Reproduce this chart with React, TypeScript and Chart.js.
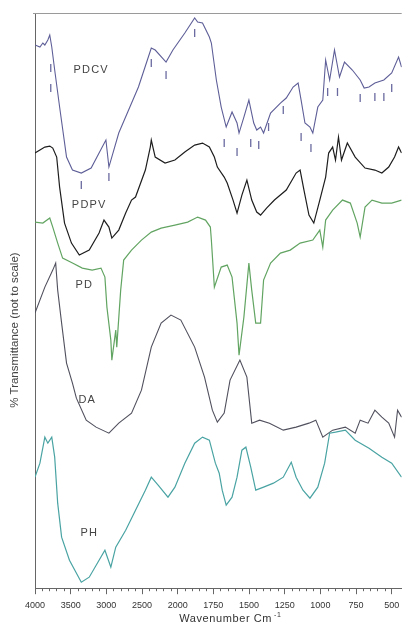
import React, { useEffect, useRef } from 'react';
import { Chart, registerables, LinearScale } from 'chart.js';

// ---------- data (wavenumber cm-1 / transmittance, arbitrary offset units) ----------
const pdcvWave = [4000,3931,3890,3862,3820,3793,3765,3724,3655,3558,3475,3351,3213,3102,3006,2964,2826,2688,2550,2439,2370,2315,2163,2067,1950,1881,1860,1826,1778,1764,1729,1695,1660,1619,1584,1570,1536,1501,1467,1446,1419,1398,1349,1280,1239,1191,1156,1135,1108,1073,1053,1018,983,963,935,901,866,831,776,721,693,659,618,555,500,452,431];
const pdcvT = [108.6,108.2,109,108.6,109.6,110.6,108.2,103.6,96.2,86.2,83.6,83,84,87,89.6,84.2,91,95.6,100.2,105,108,107.6,105.2,107.6,111,114,113.2,113,110.2,109,101.6,96.2,92.2,95.2,93,91,94.2,97.6,93,91.6,92.2,91,95,97,98,100.2,101,97.6,93,92.2,91,96.2,97.6,105.6,101.6,107.6,102.2,105.2,103.6,101.6,100,100.2,101,101.6,103,106.2,104.2];

const pdpvWave = [4000,3931,3862,3793,3751,3696,3655,3586,3489,3379,3240,3102,3033,2964,2923,2826,2729,2647,2591,2453,2384,2370,2315,2177,2039,1950,1881,1826,1778,1743,1722,1674,1653,1612,1584,1550,1515,1481,1446,1419,1377,1322,1239,1170,1142,1115,1080,1046,1004,963,942,914,894,873,852,811,756,687,618,569,521,480,452,431];
const pdpvT = [87,87.6,88.2,88.4,88,86.2,80.2,73,69,66.6,67.6,71,73.6,72.2,70,71.6,75,77.6,78.2,83.6,88.2,89.6,86.2,85,85.6,87.2,88.6,89,88.2,86.2,84.2,82.2,81,77.6,75,78.6,81.6,77.6,75.2,74.6,76,77.6,79.6,83,83.6,79.6,74.6,73,77.6,82.2,87,88.2,85.6,90.2,85.6,89,86.2,84,83.6,83,84.2,86.2,88.2,87];

const pdWave = [4000,3890,3793,3751,3682,3613,3475,3337,3199,3075,3020,2992,2937,2923,2868,2854,2799,2757,2647,2508,2370,2232,2039,1930,1860,1805,1771,1764,1743,1695,1653,1619,1584,1570,1536,1501,1481,1453,1419,1398,1349,1280,1211,1142,1053,1004,983,963,914,845,790,742,721,687,638,569,500,431];
const pdT = [73.2,73,74,72.2,69,66,65,64,63.6,64,62.2,56.2,49.6,45.6,51.6,48.2,59.6,65.6,67.6,69.6,71.2,72,72.6,73.2,74.2,73.6,72.2,69.6,60.2,64.2,64.6,62.2,53,46.6,54.2,65,59.6,53,53,61.6,65,67,67.6,69,69.6,71.6,68.2,73.6,75.6,77.6,77,73,70.2,76.2,77.6,77,77,77.6];

const daWave = [4000,3862,3751,3710,3682,3627,3558,3475,3420,3282,3144,2964,2826,2647,2508,2370,2232,2094,1978,1881,1812,1757,1722,1674,1633,1564,1515,1481,1426,1357,1260,1170,1080,1032,983,914,825,756,721,666,618,569,521,480,459,431];
const daT = [55,60.2,63.6,65,59.6,53,45,41,38,33.6,32.2,31,33,35,39.6,48.2,53,54.6,53.6,48.2,42.2,35.6,33.2,35,41.6,45.6,42.2,33,33.6,33,31.6,32.2,33,33.6,30.2,31.6,32.2,31,33.6,33,35.6,34.2,33,30.2,35.6,34.2];

const phWave = [4000,3931,3862,3820,3765,3724,3682,3627,3517,3351,3240,3102,3020,2937,2868,2729,2591,2453,2370,2274,2136,2039,1950,1881,1826,1778,1736,1709,1688,1660,1619,1584,1550,1522,1488,1453,1398,1329,1260,1204,1170,1122,1073,1018,970,935,894,825,756,659,569,500,431];
const phT = [22.2,25,30.2,29,30.2,26.2,17,10.2,5.6,1.2,2.2,5.6,7.6,4.2,8.2,11.6,15.6,19.6,22.2,20.6,18.2,20.2,25,29,30.2,29.6,25,23,19.6,16.6,18.2,22.2,27.6,28.2,24.2,19.6,20.2,21,22.2,25.2,22.2,19.6,18,20.2,25,31,31.2,31.6,29.6,28,26.2,25,22.2];

// band markers under PDCV
const markWave = [3779,3779,3351,2964,2370,2163,1881,1674,1584,1488,1432,1363,1260,1135,1066,949,880,721,618,555,500];
const markT = [104,100,80.6,82.2,105,102.6,111,89,87.2,89,88.6,92.2,95.6,90.2,88,99.2,99.2,98,98.2,98.2,100];

// curve names
const curveLabels = ['PDCV', 'PDPV', 'PD', 'DA', 'PH'];
const labelWave = [3213, 3240, 3310, 3268, 3240];
const labelT = [103.6, 76.6, 60.6, 37.6, 11];

const majorTicks = [4000, 3500, 3000, 2500, 2000, 1750, 1500, 1250, 1000, 750, 500];
const xTitle = 'Wavenumber Cm';
const yTitle = '% Transmittance (not to scale)';

// ---------- broken wavenumber scale: 4000-2000 compressed 2x ----------
const BREAK = 2000;
function toU(w: number) { return w >= BREAK ? (4000 - w) / 500 : 4 + (BREAK - w) / 250; }
function fromU(u: number) { return u <= 4 ? 4000 - u * 500 : BREAK - (u - 4) * 250; }

class WavenumberScale extends LinearScale {
  static id = 'wavenumber';
  static defaults = LinearScale.defaults;
  getPixelForValue(value: number) {
    const a = toU(this.max), b = toU(this.min);
    return this.getPixelForDecimal((toU(value) - a) / (b - a));
  }
  getValueForPixel(pixel: number) {
    const a = toU(this.max), b = toU(this.min);
    return fromU(a + this.getDecimalForPixel(pixel) * (b - a));
  }
}

Chart.register(...registerables, WavenumberScale as any);

const FONT = '"Liberation Sans", Arial, sans-serif';

function minorTickValues(): number[] {
  const out: number[] = [];
  for (let w = 3900; w > 2000; w -= 100) if (w % 500 !== 0) out.push(w);
  for (let w = 1950; w > 450; w -= 50) if (w % 250 !== 0) out.push(w);
  return out;
}

const decor = {
  id: 'decor',
  afterDraw(chart: any) {
    const { ctx, chartArea, scales } = chart;
    const x = scales.x, y = scales.y;
    ctx.save();
    // minor ticks
    ctx.strokeStyle = '#666';
    ctx.lineWidth = 1;
    ctx.beginPath();
    minorTickValues().forEach((w) => {
      const px = Math.round(x.getPixelForValue(w)) + 0.5;
      ctx.moveTo(px, chartArea.bottom);
      ctx.lineTo(px, chartArea.bottom + 3);
    });
    ctx.stroke();
    // top frame line
    ctx.strokeStyle = '#9a9a9a';
    ctx.beginPath();
    ctx.moveTo(chartArea.left - 2, chartArea.top + 0.5);
    ctx.lineTo(chartArea.right, chartArea.top + 0.5);
    ctx.stroke();
    // curve names
    ctx.fillStyle = '#444';
    ctx.font = '11px ' + FONT;
    (ctx as any).letterSpacing = '1.2px';
    ctx.textAlign = 'center';
    ctx.textBaseline = 'middle';
    curveLabels.forEach((t, i) => {
      ctx.fillText(t, x.getPixelForValue(labelWave[i]), y.getPixelForValue(labelT[i]));
    });
    // x title
    ctx.fillStyle = '#333';
    ctx.font = '11px ' + FONT;
    (ctx as any).letterSpacing = '0.6px';
    ctx.textAlign = 'left';
    const main = xTitle;
    const wMain = ctx.measureText(main).width;
    ctx.font = '7px ' + FONT;
    const sup = '-1';
    const wSup = ctx.measureText(sup).width;
    const cx = (chartArea.left + chartArea.right) / 2 + 12;
    const startX = cx - (wMain + wSup + 2) / 2;
    const ty = chart.height - 1;
    ctx.textBaseline = 'alphabetic';
    ctx.font = '11px ' + FONT;
    ctx.fillText(main, startX, ty);
    ctx.font = '7px ' + FONT;
    ctx.fillText(sup, startX + wMain + 2, ty - 5);
    (ctx as any).letterSpacing = '0px';
    // y title
    ctx.fillStyle = '#444';
    ctx.font = '11.5px ' + FONT;
    ctx.textAlign = 'center';
    ctx.textBaseline = 'middle';
    ctx.translate(15, y.getPixelForValue(51.6));
    ctx.rotate(-Math.PI / 2);
    ctx.fillText(yTitle, 0, 0);
    ctx.restore();
  },
};

function series(wave: number[], t: number[]) {
  return wave.map((w, i) => ({ x: w, y: t[i] }));
}

function lineDs(label: string, wave: number[], t: number[], color: string, width = 1.2) {
  return {
    label,
    data: series(wave, t),
    borderColor: color,
    borderWidth: width,
    pointRadius: 0,
    tension: 0,
    fill: false,
  };
}

export default function App() {
  const ref = useRef<HTMLCanvasElement | null>(null);
  useEffect(() => {
    if (!ref.current) return;
    const chart = new Chart(ref.current, {
      type: 'line',
      data: {
        datasets: [
          lineDs('PH', phWave, phT, '#4aa3a3', 1.2),
          lineDs('DA', daWave, daT, '#50505e', 1.1),
          lineDs('PD', pdWave, pdT, '#62a462', 1.2),
          lineDs('PDPV', pdpvWave, pdpvT, '#1e1e1e', 1.2),
          lineDs('PDCV', pdcvWave, pdcvT, '#5e5e98', 1.1),
          {
            label: 'bands',
            data: series(markWave, markT),
            showLine: false,
            pointStyle: 'line',
            rotation: 90,
            pointRadius: 4,
            pointBorderWidth: 1.3,
            borderColor: '#6a6aa0',
            pointBorderColor: '#6a6aa0',
          } as any,
        ],
      },
      options: {
        animation: false,
        responsive: false,
        maintainAspectRatio: false,
        layout: { padding: { left: 35, top: 13, right: 0, bottom: 6 } },
        plugins: { legend: { display: false }, tooltip: { enabled: false } },
        events: [],
        scales: {
          x: {
            type: 'wavenumber' as any,
            min: 430,
            max: 4000,
            bounds: 'data',
            afterBuildTicks: (s: any) => { s.ticks = majorTicks.map((v) => ({ value: v })); },
            afterFit: (s: any) => { s.paddingLeft = 0; s.paddingRight = 0; },
            ticks: {
              autoSkip: false,
              maxRotation: 0,
              padding: 6,
              color: '#333',
              font: { family: FONT, size: 9 },
              callback: (v: any) => String(v),
            },
            grid: { display: true, drawOnChartArea: false, tickLength: 6, color: '#666' },
            border: { display: true, color: '#666', width: 1 },
            title: { display: false },
          } as any,
          y: {
            min: 0,
            max: 115,
            ticks: { display: false },
            grid: { display: false, drawTicks: false, tickLength: 0 },
            border: { display: true, color: '#666', width: 1 },
            title: { display: false },
          },
        },
      },
      plugins: [decor],
    });
    return () => chart.destroy();
  }, []);
  return (
    <div style={{ position: 'absolute', left: 0, top: 0, width: 407, height: 623 }}>
      <canvas ref={ref} width={407} height={623} style={{ display: 'block' }} />
    </div>
  );
}
